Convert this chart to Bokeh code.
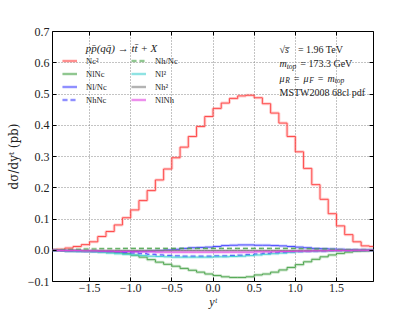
from bokeh.plotting import figure
from bokeh.models import (Legend, LegendItem, Label, LinearAxis, FixedTicker,
                          CustomJSTickFormatter, Range1d, ColumnDataSource)
from bokeh.embed import file_html
from bokeh.resources import INLINE

# ---- data (bin centres of y^t, 0.1 wide bins) ----
yt = [-1.95, -1.85, -1.75, -1.65, -1.55, -1.45, -1.35, -1.25, -1.15, -1.05,
      -0.95, -0.85, -0.75, -0.65, -0.55, -0.45, -0.35, -0.25, -0.15, -0.05,
      0.05, 0.15, 0.25, 0.35, 0.45, 0.55, 0.65, 0.75, 0.85, 0.95,
      1.05, 1.15, 1.25, 1.35, 1.45, 1.55, 1.65, 1.75, 1.85, 1.95]

nc2 = [0.002, 0.003, 0.007, 0.012, 0.018, 0.027, 0.044, 0.060, 0.081, 0.104,
       0.129, 0.159, 0.191, 0.225, 0.260, 0.296, 0.330, 0.364, 0.396, 0.428,
       0.454, 0.471, 0.486, 0.494, 0.496, 0.488, 0.469, 0.439, 0.407, 0.364,
       0.315, 0.262, 0.210, 0.163, 0.117, 0.078, 0.050, 0.027, 0.014, 0.012]

nlnc = [-0.001, -0.001, -0.002, -0.002, -0.003, -0.004, -0.005, -0.006, -0.008, -0.011,
        -0.016, -0.022, -0.030, -0.038, -0.045, -0.051, -0.058, -0.064, -0.070, -0.076,
        -0.081, -0.085, -0.087, -0.087, -0.085, -0.079, -0.076, -0.070, -0.063, -0.055,
        -0.046, -0.037, -0.029, -0.021, -0.015, -0.010, -0.006, -0.003, -0.002, -0.001]

nl_nc = [-0.001, -0.001, -0.002, -0.002, -0.003, -0.003, -0.004, -0.004, -0.004, -0.004,
         -0.004, -0.003, -0.002, -0.001, 0.001, 0.003, 0.006, 0.008, 0.009, 0.010,
         0.012, 0.015, 0.016, 0.017, 0.017, 0.016, 0.016, 0.015, 0.014, 0.012,
         0.010, 0.008, 0.006, 0.005, 0.004, 0.003, 0.002, 0.001, 0.001, 0.000]

nhnc = [0.000, -0.001, -0.001, -0.002, -0.002, -0.003, -0.003, -0.004, -0.005, -0.007,
        -0.009, -0.011, -0.013, -0.015, -0.017, -0.018, -0.019, -0.019, -0.019, -0.019,
        -0.018, -0.018, -0.017, -0.016, -0.014, -0.012, -0.010, -0.008, -0.007, -0.005,
        -0.004, -0.003, -0.002, -0.002, -0.001, -0.001, -0.001, 0.000, 0.000, 0.000]

nh_nc = [0.001, 0.001, 0.002, 0.003, 0.004, 0.004, 0.005, 0.005, 0.005, 0.006,
         0.006, 0.006, 0.006, 0.006, 0.006, 0.006, 0.006, 0.006, 0.006, 0.006,
         0.006, 0.006, 0.006, 0.006, 0.006, 0.006, 0.006, 0.006, 0.006, 0.006,
         0.005, 0.005, 0.004, 0.004, 0.003, 0.002, 0.002, 0.001, 0.001, 0.000]

nl2 = [-0.001, -0.001, -0.002, -0.003, -0.004, -0.005, -0.007, -0.009, -0.011, -0.013,
       -0.015, -0.017, -0.019, -0.020, -0.021, -0.022, -0.022, -0.022, -0.022, -0.022,
       -0.021, -0.021, -0.020, -0.019, -0.017, -0.015, -0.013, -0.011, -0.009, -0.007,
       -0.005, -0.004, -0.003, -0.002, -0.002, -0.001, -0.001, 0.000, 0.000, 0.000]

nh2 = [0.000, 0.000, 0.000, 0.000, -0.001, -0.001, -0.001, -0.001, -0.001, -0.001,
       -0.001, -0.001, -0.001, -0.001, -0.001, -0.001, -0.001, -0.001, -0.001, -0.001,
       -0.001, -0.001, -0.001, -0.001, -0.001, -0.001, -0.001, -0.001, -0.001, -0.001,
       -0.001, -0.001, -0.001, -0.001, -0.001, 0.000, 0.000, 0.000, 0.000, 0.000]

nlnh = [0.000, -0.001, -0.001, -0.001, -0.002, -0.002, -0.003, -0.003, -0.004, -0.004,
        -0.005, -0.005, -0.005, -0.006, -0.006, -0.006, -0.006, -0.006, -0.006, -0.006,
        -0.006, -0.006, -0.006, -0.006, -0.006, -0.005, -0.005, -0.005, -0.004, -0.004,
        -0.003, -0.003, -0.002, -0.002, -0.001, -0.001, -0.001, 0.000, 0.000, 0.000]

series_keys = ["nc2", "nlnc", "nl_nc", "nhnc", "nh_nc", "nl2", "nh2", "nlnh"]
series_labels = ["Nc²", "NlNc", "Nl/Nc", "NhNc", "Nh/Nc", "Nl²", "Nh²", "NlNh"]
series_colors = ["#ff4040", "#44a044", "#4040ff", "#4040ff", "#44a044", "#40d0d0", "#808080", "#e040e0"]
series_dash = ["solid", "solid", "solid", "5 3", "5 3", "solid", "solid", "solid"]

x_ticks = [-1.5, -1.0, -0.5, 0.0, 0.5, 1.0, 1.5]
y_ticks = [-0.1, 0.0, 0.1, 0.2, 0.3, 0.4, 0.5, 0.6, 0.7]

src = ColumnDataSource(dict(yt=yt, nc2=nc2, nlnc=nlnc, nl_nc=nl_nc, nhnc=nhnc,
                            nh_nc=nh_nc, nl2=nl2, nh2=nh2, nlnh=nlnh))

SERIF = "Liberation Serif"

p = figure(width=415, height=312, x_range=Range1d(-1.95, 1.95), y_range=Range1d(-0.1, 0.7),
           output_backend="svg", toolbar_location=None,
           min_border_left=52, min_border_right=42, min_border_top=31, min_border_bottom=31)
p.outline_line_color = "black"
p.outline_line_width = 1
p.background_fill_color = "white"
p.border_fill_color = "white"

fmt = CustomJSTickFormatter(code="return tick.toFixed(1).replace('-', '\u2212');")

def style_axis(ax, show_labels=True):
    ax.axis_line_color = None
    ax.major_tick_in = 4
    ax.major_tick_out = 0
    ax.minor_tick_line_color = None
    ax.major_tick_line_color = "black"
    ax.major_label_text_font = SERIF
    if show_labels:
        ax.major_label_text_font_size = "12px"
        ax.major_label_text_color = "#222222"
        ax.major_label_standoff = 3
    else:
        ax.major_label_text_font_size = "1px"
        ax.major_label_text_color = None
        ax.major_label_standoff = 0

p.xaxis.ticker = FixedTicker(ticks=x_ticks)
p.yaxis.ticker = FixedTicker(ticks=y_ticks)
p.xaxis.formatter = fmt
p.yaxis.formatter = fmt
style_axis(p.xaxis[0])
style_axis(p.yaxis[0])
p.xaxis[0].major_label_standoff = 2
p.xaxis.axis_label = "yᵗ"
p.xaxis.axis_label_text_font_style = "italic"
p.xaxis.axis_label_text_font = SERIF
p.xaxis.axis_label_text_font_size = "12px"
p.xaxis.axis_label_standoff = 0
p.yaxis.axis_label = "dσ/dyᵗ (pb)"
p.yaxis.axis_label_text_font_style = "normal"
p.yaxis.axis_label_text_font = "DejaVu Serif"
p.yaxis.axis_label_text_font_size = "12px"
p.yaxis.axis_label_standoff = 4
for ax in (p.xaxis[0], p.yaxis[0]):
    ax.axis_label_text_color = "#222222"

ax_r = LinearAxis(ticker=FixedTicker(ticks=y_ticks))
style_axis(ax_r, False)
p.add_layout(ax_r, "right")
ax_t = LinearAxis(ticker=FixedTicker(ticks=x_ticks))
style_axis(ax_t, False)
p.add_layout(ax_t, "above")

p.xgrid.ticker = FixedTicker(ticks=x_ticks)
p.ygrid.ticker = FixedTicker(ticks=y_ticks)
p.grid.grid_line_color = "#888888"
p.grid.grid_line_dash = "1 2"
p.grid.grid_line_width = 1

items = []
for key, lab, col, dash in zip(series_keys, series_labels, series_colors, series_dash):
    r1 = p.step(x="yt", y=key, source=src, mode="center", line_color=col,
                line_width=3, line_alpha=0.25, line_dash=dash)
    r2 = p.step(x="yt", y=key, source=src, mode="center", line_color=col,
                line_width=1, line_alpha=0.9, line_dash=dash)
    items.append(LegendItem(label=lab, renderers=[r1, r2]))

legend = Legend(items=items, ncols=2, location=(10, 175),
                glyph_width=15, glyph_height=13, label_standoff=9, label_width=45,
                label_height=13, spacing=0, padding=0, margin=0,
                border_line_color=None, background_fill_alpha=0,
                label_text_font=SERIF, label_text_font_size="8.5px",
                label_text_color="#222222")
p.add_layout(legend)

# legend title
p.add_layout(Label(x=69, y=234, x_units="screen", y_units="screen",
                   text="pp̄(qq̄) → tt̄ + X", text_font=SERIF, text_font_size="11px",
                   text_font_style="italic", text_align="center", text_baseline="alphabetic",
                   text_color="#222222"))

# annotation block with sub-scripts
W_REG = {' ': 0.25, '=': 0.564, '1': 0.5, '9': 0.5, '6': 0.5, '7': 0.5, '3': 0.5,
         '.': 0.25, 'T': 0.611, 'e': 0.444, 'V': 0.722, 'G': 0.722, '√': 0.549, 's': 0.389}
W_IT = {'m': 0.722, 't': 0.278, 'o': 0.5, 'p': 0.5, 'μ': 0.576, 'R': 0.611, 'F': 0.611,
        's': 0.389, ' ': 0.25, '=': 0.564}

def seg_width(text, size, style):
    tab = W_IT if style == "italic" else W_REG
    return sum(tab.get(ch, 0.5) for ch in text) * size

def add_line(segs, x0, y0):
    x = x0
    for text, size, style, dy in segs:
        stripped = text.lstrip(" ")
        x += seg_width(text[:len(text) - len(stripped)], size, style) * 1.6
        core = stripped.rstrip(" ")
        p.add_layout(Label(x=x, y=y0 + dy, x_units="screen", y_units="screen", text=core,
                           text_font=SERIF, text_font_size=f"{size}px", text_font_style=style,
                           text_baseline="alphabetic", text_color="#222222"))
        x += seg_width(core, size, style)
        x += seg_width(stripped[len(core):], size, style) * 1.6

X0 = 227
add_line([("√", 10, "normal", 0), ("s̅", 10, "italic", 0), (" = 1.96 TeV", 10, "normal", 0)], X0, 232)
add_line([("m", 10, "italic", 0), ("top", 7.5, "italic", -2.5), (" = 173.3 GeV", 10, "normal", 0)], X0, 218)
add_line([("μ", 10, "italic", 0), ("R", 7.5, "italic", -2.5), (" = ", 10, "normal", 0),
          ("μ", 10, "italic", 0), ("F", 7.5, "italic", -2.5), (" = ", 10, "normal", 0),
          ("m", 10, "italic", 0), ("top", 7.5, "italic", -2.5)], X0, 203.5)
add_line([("MSTW2008 68cl pdf", 10, "normal", 0)], X0, 189)

open("out.html", "w").write(file_html(p, INLINE))
